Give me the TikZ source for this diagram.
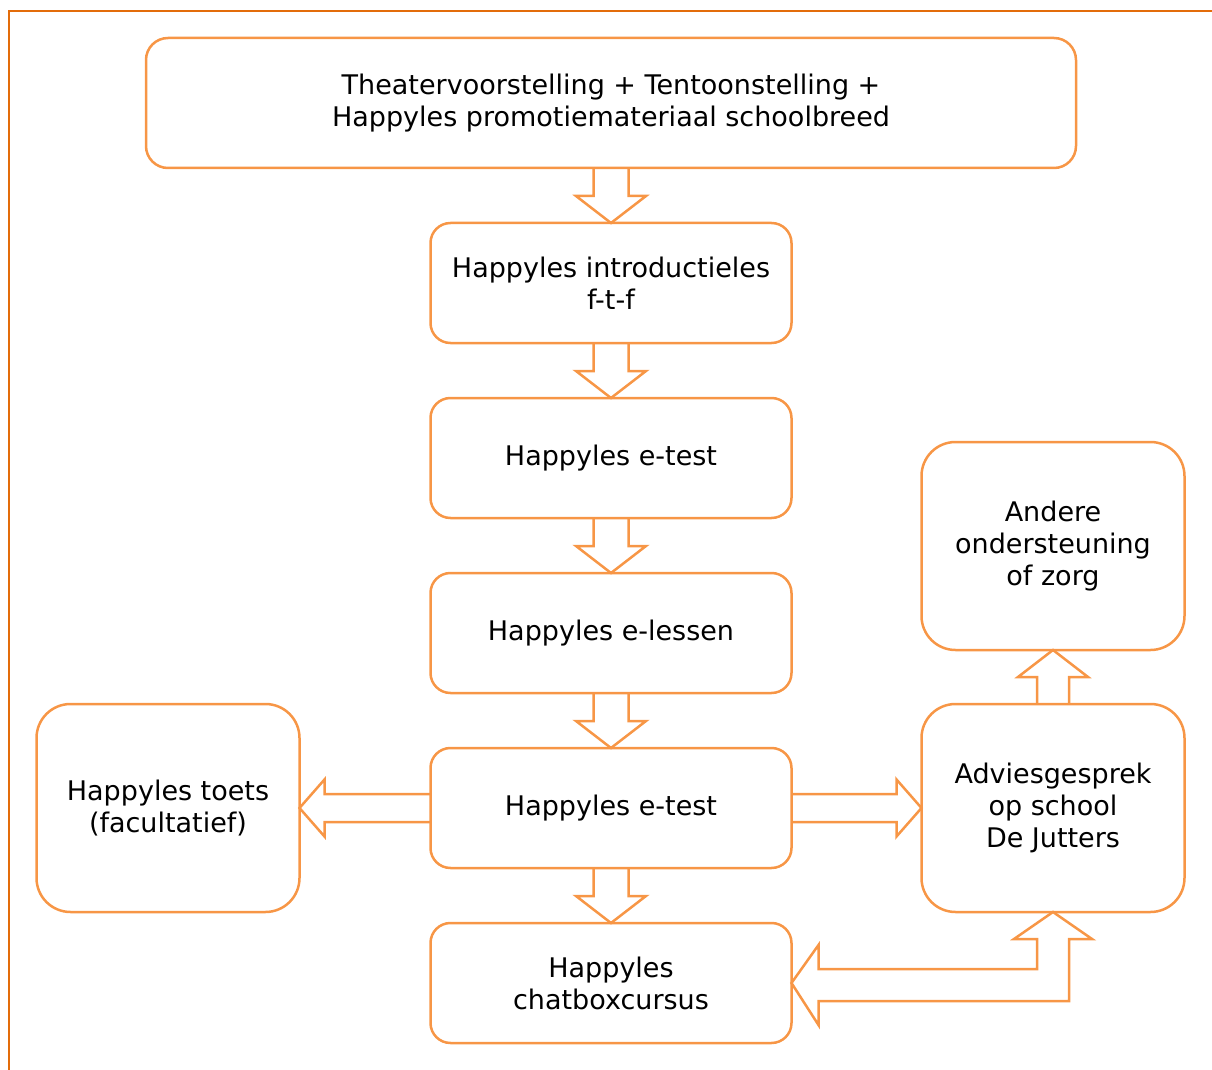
\documentclass[tikz,border=0pt]{standalone}
\usepackage{fontspec}
\setmainfont{DejaVu Sans}
\usetikzlibrary{positioning,calc}

\definecolor{happyorange}{HTML}{F79646}
\definecolor{frameorange}{HTML}{E36C0A}

% hollow block arrow pointing down, from the bottom of #1 to the top of #2
\newcommand{\blockdown}[2]{%
  \draw[blockarrow] let \p1=(#1.south), \p2=(#2.north) in
    (\x1-8.75pt,\y1) -- (\x1-8.75pt,\y2+13.5pt) -- (\x1-17.5pt,\y2+13.5pt) -- (\x1,\y2)
    -- (\x1+17.5pt,\y2+13.5pt) -- (\x1+8.75pt,\y2+13.5pt) -- (\x1+8.75pt,\y1);}

\begin{document}
\begin{tikzpicture}[
    node distance=27.5pt,
    box/.style={rectangle, draw=happyorange, line width=1.25pt, rounded corners=10pt,
        outer sep=0pt, minimum width=180.5pt, minimum height=60pt, align=center,
        font=\fontsize{13.5}{16}\selectfont},
    sidebox/.style={box, rounded corners=17pt, minimum width=131.5pt, minimum height=104pt},
    blockarrow/.style={draw=happyorange, line width=1.25pt, line join=miter}
]
    \useasboundingbox (0,0) rectangle (606pt,-535pt);
    \draw[frameorange, line width=0.75pt] (4.5pt,-540pt) -- (4.5pt,-5.5pt) -- (610pt,-5.5pt);

    \node[box, rounded corners=11pt, minimum width=465pt, minimum height=65pt] (show) at (305.5pt,-51.5pt)
        {Theatervoorstelling + Tentoonstelling +\\Happyles promotiemateriaal schoolbreed};
    \node[box, below=of show] (intro) {Happyles introductieles\\f-t-f};
    \node[box, below=of intro] (etest) {Happyles e-test};
    \node[box, below=of etest] (elessen) {Happyles e-lessen};
    \node[box, below=of elessen] (etestb) {Happyles e-test};
    \node[box, below=of etestb] (chatbox) {Happyles\\chatboxcursus};
    \node[sidebox, left=65.5pt of etestb] (toets) {Happyles toets\\(facultatief)};
    \node[sidebox, right=65pt of etestb] (advies) {Adviesgesprek\\op school\\De Jutters};
    \node[sidebox, above=27pt of advies] (andere) {Andere\\ondersteuning\\of zorg};

    \blockdown{show}{intro}
    \blockdown{intro}{etest}
    \blockdown{etest}{elessen}
    \blockdown{elessen}{etestb}
    \blockdown{etestb}{chatbox}

    % sideways
    \draw[blockarrow] let \p1=(etestb.west), \p2=(toets.east) in
        (\x1,\y1+7pt) -- (\x2+12.5pt,\y1+7pt) -- (\x2+12.5pt,\y1+14.25pt) -- (\x2,\y1)
        -- (\x2+12.5pt,\y1-14.25pt) -- (\x2+12.5pt,\y1-7pt) -- (\x1,\y1-7pt);
    \draw[blockarrow] let \p1=(etestb.east), \p2=(advies.west) in
        (\x1,\y1+7pt) -- (\x2-12.5pt,\y1+7pt) -- (\x2-12.5pt,\y1+14.25pt) -- (\x2,\y1)
        -- (\x2-12.5pt,\y1-14.25pt) -- (\x2-12.5pt,\y1-7pt) -- (\x1,\y1-7pt);

    % up to andere
    \draw[blockarrow] let \p1=(advies.north), \p2=(andere.south) in
        (\x1-8pt,\y1) -- (\x1-8pt,\y2-13.5pt) -- (\x1-17.5pt,\y2-13.5pt) -- (\x1,\y2)
        -- (\x1+17.5pt,\y2-13.5pt) -- (\x1+8pt,\y2-13.5pt) -- (\x1+8pt,\y1);

    % two-way bent arrow
    \draw[blockarrow] let \p1=(chatbox.east), \p2=(advies.south) in
        (\x1,\y1) -- (\x1+13.5pt,\y1+19pt) -- (\x1+13.5pt,\y1+7pt) -- (\x2-8pt,\y1+7pt)
        -- (\x2-8pt,\y2-13.5pt) -- (\x2-19.5pt,\y2-13.5pt) -- (\x2,\y2)
        -- (\x2+19.5pt,\y2-13.5pt) -- (\x2+8pt,\y2-13.5pt) -- (\x2+8pt,\y1-9pt)
        -- (\x1+13.5pt,\y1-9pt) -- (\x1+13.5pt,\y1-21pt) -- cycle;
\end{tikzpicture}
\end{document}
